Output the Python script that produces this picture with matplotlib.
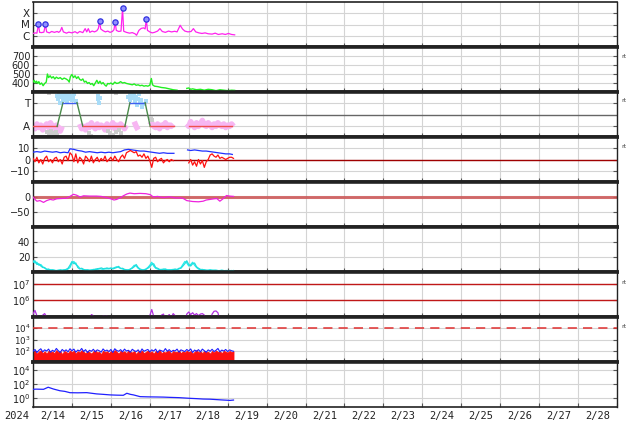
import numpy as np
import matplotlib
matplotlib.use("Agg")
import matplotlib.pyplot as plt
from matplotlib.ticker import NullLocator

# ---------------- data (days since 2024-02-14 00:00 UT) ----------------
xray_t = [0.00, 0.06, 0.10, 0.14, 0.17, 0.22, 0.28, 0.32, 0.35, 0.42, 0.48, 0.55, 0.62, 0.66,
          0.70, 0.74, 0.78, 0.86, 0.92, 1.00, 1.08, 1.14, 1.20, 1.28, 1.34, 1.38, 1.42, 1.46,
          1.52, 1.58, 1.64, 1.68, 1.71, 1.74, 1.80, 1.86, 1.92, 1.98, 2.04, 2.08, 2.11, 2.14,
          2.20, 2.26, 2.30, 2.33, 2.40, 2.48, 2.55, 2.62, 2.66, 2.72, 2.78, 2.84, 2.88, 2.91,
          2.94, 3.00, 3.06, 3.12, 3.20, 3.26, 3.32, 3.40, 3.48, 3.56, 3.64, 3.70, 3.78, 3.84,
          3.90, 3.98, 4.06, 4.12, 4.18, 4.26, 4.34, 4.42, 4.50, 4.60, 4.68, 4.76, 4.86, 4.94,
          5.02, 5.10, 5.18]
xray_v = [1.6e-6, 1.8e-6, 1.7e-6, 1.04e-5, 2.0e-6, 1.9e-6, 2.1e-6, 1.04e-5, 2.2e-6, 1.8e-6,
          2.4e-6, 2.0e-6, 2.4e-6, 2.0e-6, 2.6e-6, 5.5e-6, 2.2e-6, 1.7e-6, 2.1e-6, 1.8e-6,
          2.3e-6, 1.7e-6, 2.4e-6, 1.9e-6, 4.3e-6, 2.2e-6, 4.3e-6, 2.0e-6, 2.6e-6, 2.2e-6,
          2.8e-6, 4.5e-6, 2.0e-5, 4.0e-6, 2.8e-6, 2.2e-6, 2.6e-6, 2.0e-6, 2.4e-6, 3.5e-6,
          1.6e-5, 3.0e-6, 2.4e-6, 2.6e-6, 2.75e-4, 2.5e-6, 2.0e-6, 1.7e-6, 1.9e-6, 1.5e-6,
          1.1e-6, 3.0e-6, 4.5e-6, 5.0e-6, 4.0e-6, 2.9e-5, 3.0e-6, 2.2e-6, 1.8e-6, 2.0e-6,
          2.6e-6, 4.3e-6, 2.4e-6, 2.0e-6, 2.6e-6, 2.2e-6, 2.5e-6, 2.2e-6, 8.5e-6, 4.0e-6,
          2.6e-6, 2.2e-6, 2.4e-6, 4.3e-6, 2.2e-6, 1.8e-6, 1.6e-6, 1.8e-6, 1.5e-6, 1.4e-6,
          1.7e-6, 1.3e-6, 1.5e-6, 1.3e-6, 1.6e-6, 1.3e-6, 1.2e-6]
flare_t = [0.14, 0.32, 1.71, 2.11, 2.30, 2.91]
flare_v = [1.04e-5, 1.04e-5, 2.0e-5, 1.6e-5, 2.75e-4, 2.9e-5]
xray_ticks = [1e-6, 1e-5, 1e-4]
xray_labels = ["C", "M", "X"]

speed_t = [0.00, 0.03, 0.06, 0.09, 0.12, 0.15, 0.18, 0.22, 0.26, 0.30, 0.34, 0.37, 0.40, 0.44,
           0.48, 0.52, 0.56, 0.60, 0.65, 0.70, 0.75, 0.80, 0.85, 0.90, 0.93, 0.96, 1.00, 1.04,
           1.08, 1.12, 1.16, 1.20, 1.24, 1.28, 1.32, 1.36, 1.40, 1.44, 1.48, 1.52, 1.56, 1.60,
           1.64, 1.68, 1.72, 1.76, 1.80, 1.84, 1.88, 1.92, 1.96, 2.00, 2.05, 2.10, 2.15, 2.20,
           2.25, 2.30, 2.35, 2.40, 2.45, 2.50, 2.55, 2.60, 2.65, 2.70, 2.75, 2.80, 2.85, 2.90,
           2.95, 3.00, 3.04, 3.07, 3.12, 3.20, 3.30, 3.40, 3.50, 3.60, 3.70, 3.80,
           3.95, 4.00, 4.05, 4.10, 4.20, 4.30, 4.40, 4.50, 4.60, 4.70, 4.80, 4.90, 5.00, 5.10, 5.18]
speed_v = [410, 430, 400, 420, 395, 415, 385, 400, 370, 395, 410, 500, 460, 480,
           455, 470, 445, 465, 450, 460, 440, 455, 445, 430, 410, 470, 495, 460,
           480, 450, 470, 440, 430, 445, 410, 420, 395, 405, 385, 395, 370, 400,
           430, 395, 420, 390, 405, 380, 365, 395, 390, 400, 385, 410, 395, 400,
           415, 400, 405, 395, 390, 385, 380, 390, 375, 380, 370, 375, 365, 370,
           365, 375, 450, 380, 365, 360, 350, 345, 335, 325, 320, np.nan,
           340, 345, 330, 335, 325, 330, 320, 330, 325, 315, 325, 320, 315, 320, 318]

pol_t = [0.00, 0.62, 0.77, 1.13, 1.28, 2.36, 2.49, 2.88, 3.01, 3.62, 4.01, 5.11]
pol_v = [-1, -1, 1, 1, -1, -1, 1, 1, -1, -1, -1, -1]
pol_gap_after = 3.62

grid_t = np.linspace(0, 5.15, 104)
pink_v = [-1.0, -1.2, -0.8, -1.1, -0.9, -1.3, -1.0, -0.8, -1.1, -0.7, -1.0, -1.2, -0.9, -1.1, -1.4, -1.0,
          np.nan, np.nan, np.nan, np.nan, np.nan, np.nan, np.nan, np.nan,
          -0.8, -1.2, -1.0, -1.3, -0.9, -1.1, -0.7, -1.0, -1.2, -0.8, -1.1, -0.9, -1.0, -1.3, -0.8,
          -1.1, -1.0, -0.7, -1.2, -0.9, -1.1, -0.8, -1.0, -1.2, -0.9,
          np.nan, np.nan, np.nan, -0.6, -1.0, -1.3, np.nan, np.nan, np.nan, np.nan, np.nan,
          -0.9, -0.7, -1.0, -1.1, -0.8, -1.2, -0.9, -1.0, -0.7, -1.1, -0.9, -1.0, -0.8,
          np.nan, np.nan, np.nan, np.nan, np.nan, np.nan,
          -0.8, -1.0, -0.6, -0.9, -1.1, -0.7, -1.0, -0.8, -0.5, -0.9, -1.0, -0.7, -0.9, -1.1,
          -0.8, -1.0, -0.7, -0.9, -1.0, -0.8, -1.1, -0.9, -1.0, -0.8, -1.0]
lb_t = [0.62, 0.65, 0.68, 0.70, 0.72, 0.75, 0.78, 0.80, 0.83, 0.85, 0.88, 0.90, 0.93, 0.95, 0.98,
        1.00, 1.03, 1.06, 1.10, 1.66, 1.68, 1.70, 1.72, 2.45, 2.48, 2.50, 2.53, 2.55, 2.58, 2.60,
        2.63, 2.65, 2.68, 2.70, 2.73, 2.75, 2.78, 2.80, 2.85, 2.90]
lb_v = [1.6, 1.3, 1.75, 1.0, 1.5, 1.8, 1.2, 1.65, 1.4, 1.7, 1.1, 1.5, 1.75, 1.3, 1.6,
        1.2, 1.45, 1.7, 1.1, 1.6, 1.3, 1.0, 1.4, 1.5, 1.7, 1.2, 1.8, 1.4, 1.6, 1.75,
        1.1, 1.5, 0.8, 1.3, 1.7, 1.0, 1.2, 0.6, 0.9, 1.1]
gy_t = [0.35, 0.40, 0.45, 0.50, 0.55, 0.60, 0.62, 1.45, 1.50, 1.92, 1.98, 2.05, 2.12, 2.20, 2.25,
        3.02, 3.05, 0.40, 2.12]
gy_v = [-1.5, -1.7, -1.4, -1.6, -1.8, -1.5, -1.7, -1.6, -1.8, -1.4, -1.6, -1.7, -1.5, -1.3, -1.6,
        -0.3, -0.5, 1.85, 1.85]

bt_t = [0.0, 0.1, 0.2, 0.3, 0.4, 0.5, 0.6, 0.7, 0.8, 0.9, 0.95, 1.05, 1.15, 1.25, 1.35, 1.45,
        1.55, 1.65, 1.75, 1.85, 1.95, 2.05, 2.15, 2.25, 2.35, 2.45, 2.55, 2.65, 2.75, 2.85, 2.95,
        3.05, 3.15, 3.25, 3.35, 3.45, 3.55, 3.62, 3.80, 3.97, 4.05, 4.15, 4.25, 4.35, 4.45, 4.55,
        4.65, 4.75, 4.85, 4.95, 5.05, 5.12]
bt_v = [6.5, 7, 6.5, 7.5, 7, 6.5, 7, 6, 6.5, 6, 9.5, 9, 8, 7.5, 6.5, 7,
        6.5, 6, 6.5, 6, 6.5, 6, 6.5, 7, 8.5, 9, 8.5, 8, 7.5, 7.5, 7,
        6.5, 6, 5.5, 6, 5.5, 5.5, 5.5, np.nan, 8.5, 8, 8.5, 8, 7.5, 7.5, 7,
        6.5, 6, 5.5, 5, 5, 4.5]
bz_v = [1, -2, 2, -3, 0, -4, 1, 3, -2, 0,
        -3, 1, 2, -2, 0, -4, 2, 3, -1, 6,
        4, -2, 5, -3, 2, 0, -4, 3, 1, -2,
        3, -3, 0, 2, -2, 1, -1, 3, -2, 0,
        2, -1, 3, 0, -2, 2, 4, 1, 6, 7,
        8, 7, 6, 7, 3, 4, 2, 5, 1, 3,
        -1, -7, 1, 2, -2, 0, 1, -3, -1, 0,
        -2, 0, -1, np.nan, np.nan, np.nan, np.nan, np.nan, np.nan, np.nan,
        -3, 0, -5, -2, -6, 0, -4, -1, -7, -2,
        0, 4, 5, 3, 2, 4, 1, 2, 1, 0,
        1, 2, 2, 1]

dst_t = [0, 0.05, 0.1, 0.18, 0.27, 0.35, 0.44, 0.52, 0.61, 0.72, 0.86, 0.95, 1.04, 1.12, 1.21,
         1.3, 1.45, 1.63, 1.75, 1.89, 2.0, 2.08, 2.15, 2.25, 2.32, 2.41, 2.49, 2.6, 2.75, 2.9,
         3.01, 3.09, 3.2, 3.35, 3.5, 3.65, 3.8, 3.86, 3.95, 4.1, 4.25, 4.37, 4.45, 4.55, 4.65,
         4.72, 4.80, 4.88, 4.97, 5.05, 5.15]
dst_v = [0, -8, -14, -12, -18, -12, -8, -10, -6, -5, -4, 2, 9, 6, 0,
         4, 3, 3, 2, -2, -6, -10, -8, -2, 4, 10, 13, 11, 12, 11,
         8, 0, 2, -2, 1, -3, -3, -5, -12, -15, -16, -14, -10, -8, -6,
         -5, -14, -6, 5, 3, 2]

dens1 = [15, 12, 13, 9, 10, 7, 5, 4, 3, 3,
         2.5, 2, 2, 2.5, 2, 2, 3, 2.5, 4, 6,
         12, 14, 10, 8, 5, 4, 3, 3, 2.5, 2,
         3, 2.5, 4, 3, 5, 4, 3.5, 5, 4, 5,
         4.5, 5, 6, 7, 6, 5, 4, 3, 2.5, 3,
         3.5, 6, 9, 8, 5, 3, 2.5, 3, 4, 6,
         9, 13, 8, 5, 4, 3, 3.5, 3, 4, 3,
         2.5, 3, 3.5, 3, 3.5, 4, 6, 10, 14, 12,
         8, 10, 13, 9, 6, 4, 3, 3.5, 2.5, 2,
         2.5, 3, 2, 2.5, 2, 1.5, 2, 2.5, 1.5, 2,
         2, 1.5, 2, 1.5]
dens2 = [13, 15, 10, 11, 8, 6, 6, 3, 4, 2.5,
         3, 2.5, 1.5, 2, 3, 2.5, 2.5, 3.5, 5, 9,
         14, 11, 12, 6, 4, 5, 3.5, 2.5, 3, 2.5,
         2, 3.5, 3, 4.5, 4, 5.5, 4.5, 4, 5.5, 4,
         5.5, 4, 5, 6, 7.5, 4.5, 5, 3.5, 3, 2.5,
         4, 5, 7, 10, 6, 4, 3, 2.5, 3.5, 5,
         7, 10, 11, 6, 5, 3.5, 3, 4, 3.5, 2.5,
         3, 2.5, 3, 4, 3, 5, 5, 8, 11, 15,
         10, 8, 11, 12, 7, 5, 3.5, 3, 3, 2.5,
         2, 2.5, 2.5, 2, 2.5, 2, 1.5, 2, 2, 1.5,
         1.5, 2, 1.5, 2]

elec = [1.5e5, 2.5e5, 1.2e5, 6e4, 5e4, 1.3e5, 1.6e5, 1.0e5, 6e4, 5e4,
        5e4, 5e4, 5e4, 5e4, 5e4, 5e4, 5e4, 5e4, 5e4, 5e4,
        5e4, 5e4, 5e4, 1.1e5, 6e4, 5e4, 5e4, 5e4, 5e4, 5e4,
        1.4e5, 1.2e5, 6e4, 5e4, 5e4, 5e4, 1.2e5, 1.1e5, 1.2e5, 6e4,
        5e4, 5e4, 5e4, 5e4, 5e4, 5e4, 5e4, 5e4, 5e4, 1.05e5,
        6e4, 5e4, 5e4, 5e4, 5e4, 5e4, 5e4, 5e4, 5e4, 5e4,
        1.2e5, 2.8e5, 1.1e5, 6e4, 5e4, 5e4, 1.3e5, 1.5e5, 8e4, 1.1e5,
        1.4e5, 9e4, 1.6e5, 1.2e5, 8e4, 5e4, 5e4, 5e4, 5e4, 1.5e5,
        2.0e5, 1.4e5, 1.8e5, 1.3e5, 1.6e5, 1.2e5, 1.5e5, 1.6e5, 1.3e5, 6e4,
        5e4, 5e4, 1.5e5, 2.2e5, 2.3e5, 1.8e5, 6e4, 5e4, 5e4, 5e4,
        5e4, 5e4, 5e4, 5e4]

prot_red = [70, 95, 55, 85, 110, 60, 90, 55, 100, 75, 85, 60, 115, 70, 90, 50, 95, 80, 60, 105,
            75, 100, 55, 90, 70, 115, 80, 60, 95, 75, 55, 90, 105, 70, 80, 50, 100, 75, 90, 60,
            95, 70, 115, 80, 55, 100, 75, 90, 60, 105, 80, 70, 95, 50, 90, 75, 105, 60, 80, 100,
            70, 90, 55, 95, 75, 115, 60, 80, 70, 100, 90, 55, 95, 75, 80, 105, 60, 90, 70, 100,
            75, 95, 55, 80, 115, 70, 90, 60, 100, 75, 80, 55, 95, 70, 105, 75, 90, 60, 100, 80,
            70, 95, 75, 90]
prot_blue = [90, 130, 70, 110, 150, 80, 120, 95, 140, 75, 110, 85, 160, 100, 70, 130, 90, 120, 80, 150,
             100, 140, 75, 115, 95, 160, 85, 125, 70, 110, 90, 135, 80, 120, 100, 75, 145, 95, 115, 85,
             130, 70, 150, 105, 90, 125, 80, 140, 95, 110, 75, 135, 100, 85, 120, 70, 145, 90, 110, 130,
             80, 120, 95, 140, 70, 115, 100, 85, 155, 90, 125, 80, 110, 95, 140, 75, 120, 100, 85, 130,
             95, 145, 70, 115, 90, 125, 80, 140, 100, 75, 120, 90, 135, 85, 110, 160, 80, 115, 95, 130,
             85, 120, 100, 90]

fl_t = [0.0, 0.08, 0.27, 0.39, 0.52, 0.69, 0.82, 0.95, 1.15, 1.38, 1.63, 1.80, 1.98, 2.15, 2.32,
        2.41, 2.50, 2.58, 2.75, 2.95, 3.18, 3.35, 3.52, 3.75, 4.03, 4.20, 4.37, 4.55, 4.72, 4.90,
        5.06, 5.15]
fl_v = [16, 17, 16, 32, 18, 10, 8, 5.2, 5.0, 5.3, 3.5, 3.0, 2.5, 2.3, 2.2,
        4.3, 3.0, 2.5, 1.4, 1.3, 1.25, 1.2, 1.1, 1.0, 0.8, 0.72, 0.63, 0.6, 0.52, 0.45,
        0.4, 0.45]

day_labels = ["2/14", "2/15", "2/16", "2/17", "2/18", "2/19", "2/20", "2/21", "2/22", "2/23",
              "2/24", "2/25", "2/26", "2/27", "2/28"]

# ---------------- figure ----------------
W, H = 634, 424
fig = plt.figure(figsize=(W / 100, H / 100), dpi=100)
left_px, right_px = 33, 617
tops = [2, 47, 92, 137, 182, 227, 272, 317, 362]
ph = 45
axes = []
for tp in tops:
    ax = fig.add_axes([left_px / W, 1 - (tp + ph) / H, (right_px - left_px) / W, ph / H])
    axes.append(ax)

gridc = "#d4d4d4"
for i, ax in enumerate(axes):
    ax.set_xlim(0, 15)
    ax.set_xticks(range(16))
    ax.grid(True, color=gridc, lw=0.8, zorder=0)
    ax.set_axisbelow(True)
    ax.tick_params(axis="x", which="both", labelbottom=False, direction="in", length=3,
                   color="#555555", top=False)
    ax.tick_params(axis="y", which="both", direction="in", length=3, right=True,
                   labelsize=7, colors="#555555", labelcolor="#222222", pad=2)
    for s in ("top", "bottom"):
        ax.spines[s].set_linewidth(2.6)
        ax.spines[s].set_color("#222222")
    for s in ("left", "right"):
        ax.spines[s].set_linewidth(1.0)
        ax.spines[s].set_color("#222222")
axes[0].spines["top"].set_linewidth(1.2)
axes[-1].spines["bottom"].set_linewidth(1.2)

# Panel 1: X-ray
ax = axes[0]
ax.set_yscale("log")
ax.set_ylim(1e-7, 1e-3)
ax.plot(xray_t, xray_v, color="#ff22ee", lw=0.9, zorder=3)
ax.plot(flare_t, flare_v, "o", ms=3.8, mfc="#9090ff", mec="#3030e0", mew=0.9, zorder=4)
ax.set_yticks(xray_ticks)
ax.set_yticklabels(xray_labels, fontsize=7.5)
ax.yaxis.set_minor_locator(NullLocator())

# Panel 2: speed
ax = axes[1]
ax.set_ylim(300, 800)
ax.plot(speed_t, speed_v, color="#22ee22", lw=1.0, zorder=3)
ax.set_yticks([400, 500, 600, 700])

# Panel 3: polarity
ax = axes[2]
ax.set_ylim(-1.9, 1.9)
ax.axhline(0, color="#666666", lw=1.0, zorder=1)
ax.plot(grid_t, pink_v, color="#f7b6f2", lw=4.0, zorder=2, solid_capstyle="butt")
ax.scatter(gy_t, gy_v, s=6, marker="s", color="#cccccc", lw=0, zorder=2)
ax.scatter(lb_t, lb_v, s=8, marker="s", color="#a8dcf8", lw=0, zorder=2)
for k in range(len(pol_t) - 1):
    if pol_t[k] == pol_gap_after:
        continue
    a, b = pol_v[k], pol_v[k + 1]
    c = "#f05050" if (a < 0 and b < 0) else ("#4060f0" if (a > 0 and b > 0) else "#4a8a4a")
    ax.plot([pol_t[k], pol_t[k + 1]], [a, b], color=c, lw=1.0, zorder=3)
ax.set_yticks([-1, 1])
ax.set_yticklabels(["A", "T"], fontsize=7.5)

# Panel 4: IMF
ax = axes[3]
ax.set_ylim(-20, 20)
ax.axhline(0, color="#a00000", lw=1.0, zorder=2)
ax.plot(bt_t, bt_v, color="#2030ff", lw=0.9, zorder=3)
ax.plot(grid_t, bz_v, color="#ff1010", lw=0.9, zorder=3)
ax.set_yticks([-10, 0, 10])
ax.set_yticklabels(["\u221210", "0", "10"])

# Panel 5: Dst
ax = axes[4]
ax.set_ylim(-100, 50)
ax.axhline(0, color="#cc5555", lw=2.2, alpha=0.85, zorder=2)
ax.plot(dst_t, dst_v, color="#ee22dd", lw=0.9, zorder=3)
ax.set_yticks([-50, 0])
ax.set_yticklabels(["\u221250", "0"])

# Panel 6: density
ax = axes[5]
ax.set_ylim(0, 60)
ax.plot(grid_t, dens1, color="#22eeee", lw=0.9, zorder=3)
ax.plot(grid_t, dens2, color="#22dddd", lw=0.9, zorder=3)
ax.set_yticks([20, 40])

# Panel 7: electrons
ax = axes[6]
ax.set_yscale("log")
ax.set_ylim(1e5, 5e7)
ax.plot(grid_t, elec, color="#b030e0", lw=0.9, zorder=3)
ax.axhline(1e7, color="#c01818", lw=1.0, zorder=2)
ax.axhline(1e6, color="#c01818", lw=1.0, zorder=2)
ax.set_yticks([1e6, 1e7])
ax.set_yticklabels([r"$10^6$", r"$10^7$"])
ax.yaxis.set_minor_locator(NullLocator())

# Panel 8: protons
ax = axes[7]
ax.set_yscale("log")
ax.set_ylim(10, 1e5)
ax.fill_between(grid_t, 10, prot_red, color="#ff1010", lw=0.6, edgecolor="#ff1010", zorder=2)
ax.plot(grid_t, prot_blue, color="#2020ff", lw=0.8, zorder=3)
ax.axhline(1e4, color="#e03030", lw=1.1, dashes=(6, 4), zorder=3)
ax.set_yticks([1e2, 1e3, 1e4])
ax.set_yticklabels([r"$10^2$", r"$10^3$", r"$10^4$"], fontsize=6.3)
ax.yaxis.set_minor_locator(NullLocator())

# Panel 9: fluence
ax = axes[8]
ax.set_yscale("log")
ax.set_ylim(10 ** -1.35, 10 ** 5.15)
ax.plot(fl_t, fl_v, color="#2020ff", lw=0.9, zorder=3)
ax.set_yticks([1e0, 1e2, 1e4])
ax.set_yticklabels([r"$10^0$", r"$10^2$", r"$10^4$"])
ax.yaxis.set_minor_locator(NullLocator())

# bottom date labels
ax = axes[-1]
ax.set_xticks([d + 0.5 for d in range(15)], minor=True)
ax.set_xticklabels(day_labels, minor=True, family="DejaVu Sans Mono", fontsize=7.5,
                   color="#222222")
ax.tick_params(axis="x", which="minor", length=0, labelbottom=True, pad=3)
fig.text(17 / W, 1 - 416 / H, "2024", ha="center", va="center",
         family="DejaVu Sans Mono", fontsize=7.5, color="#222222")

for yy in [56, 101, 147, 282, 327]:
    fig.text(621 / W, 1 - yy / H, "rt", ha="left", va="center", fontsize=4.5, color="#444444")

fig.savefig("out.png", dpi=100)
